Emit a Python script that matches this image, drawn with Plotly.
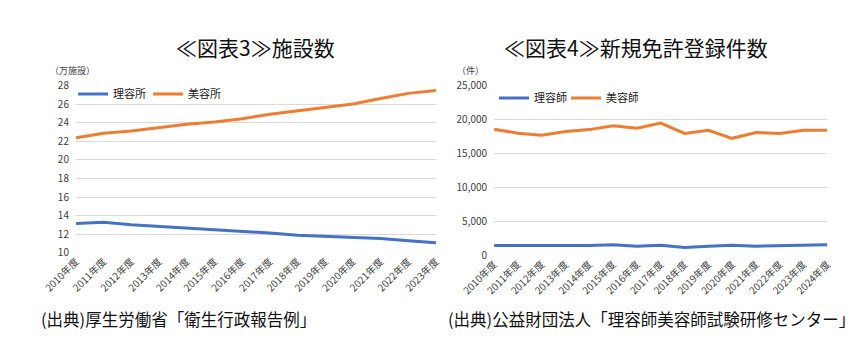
import plotly.graph_objects as go

W, H = 862, 345

# ---- data ----
years_left = [f"{y}年度" for y in range(2010, 2024)]
barber_shops = [13.17, 13.28, 13.03, 12.86, 12.69, 12.52, 12.28, 12.14, 11.9, 11.76, 11.62, 11.55, 11.31, 11.1]
beauty_salons = [22.37, 22.86, 23.1, 23.45, 23.84, 24.08, 24.43, 24.9, 25.24, 25.6, 26.0, 26.6, 27.15, 27.45]

years_right = [f"{y}年度" for y in range(2010, 2025)]
barber_licenses = [1500, 1500, 1500, 1500, 1500, 1630, 1400, 1540, 1215, 1400, 1540, 1400, 1500, 1500, 1600]
beauty_licenses = [18570, 18000, 17710, 18240, 18520, 19100, 18710, 19480, 17950, 18430, 17240, 18100, 17950, 18430, 18430]

left_ticks = [10, 12, 14, 16, 18, 20, 22, 24, 26, 28]
right_ticks = [0, 5000, 10000, 15000, 20000, 25000]

BLUE = "#4472C4"
ORANGE = "#ED7D31"
FONT = "Noto Sans CJK JP"
TICKC = "#404040"


def px(x):
    return x / W


def py(y):
    return (H - y) / H


fig = go.Figure()

fig.add_trace(go.Scatter(x=years_left, y=barber_shops, name="理容所", mode="lines",
                         line=dict(color=BLUE, width=3), xaxis="x", yaxis="y", legend="legend"))
fig.add_trace(go.Scatter(x=years_left, y=beauty_salons, name="美容所", mode="lines",
                         line=dict(color=ORANGE, width=3), xaxis="x", yaxis="y", legend="legend"))
fig.add_trace(go.Scatter(x=years_right, y=barber_licenses, name="理容師", mode="lines",
                         line=dict(color=BLUE, width=3), xaxis="x2", yaxis="y2", legend="legend2"))
fig.add_trace(go.Scatter(x=years_right, y=beauty_licenses, name="美容師", mode="lines",
                         line=dict(color=ORANGE, width=3), xaxis="x2", yaxis="y2", legend="legend2"))

axis_common = dict(showline=False, zeroline=False, ticks="", tickfont=dict(family=FONT, size=10, color=TICKC))

fig.update_layout(
    width=W, height=H,
    margin=dict(l=0, r=0, t=0, b=0),
    paper_bgcolor="white", plot_bgcolor="white",
    font=dict(family=FONT, color="#222"),
    xaxis=dict(domain=[px(43), px(421)], anchor="y", showgrid=False, tickangle=-45,
               **axis_common),
    yaxis=dict(domain=[py(256), py(81)], anchor="x", range=[10, 28], tickvals=left_ticks,
               showgrid=True, gridcolor="#d9d9d9", gridwidth=1, ticklabelstandoff=6, **axis_common),
    xaxis2=dict(domain=[px(482), px(832)], anchor="y2", showgrid=False, tickangle=-45,
                **axis_common),
    yaxis2=dict(domain=[py(259), py(81)], anchor="x2", range=[0, 25000], tickvals=right_ticks,
                tickformat=",", showgrid=True, gridcolor="#d9d9d9", gridwidth=1, ticklabelstandoff=6,
                **axis_common),
    legend=dict(orientation="h", x=px(40), y=py(90), xanchor="left", yanchor="middle",
                font=dict(family=FONT, size=11, color="#222"), bgcolor="rgba(0,0,0,0)",
                itemwidth=30, entrywidth=30, tracegroupgap=0),
    legend2=dict(orientation="h", x=px(482), y=py(94), xanchor="left", yanchor="middle",
                 font=dict(family=FONT, size=11, color="#222"), bgcolor="rgba(0,0,0,0)",
                 itemwidth=30, entrywidth=27, tracegroupgap=0),
    showlegend=True,
)

annos = [
    dict(text="≪図表3≫施設数", x=px(231), y=py(41), size=21),
    dict(text="≪図表4≫新規免許登録件数", x=px(631), y=py(41), size=21),
]
for a in annos:
    fig.add_annotation(text=a["text"], x=a["x"], y=a["y"], xref="paper", yref="paper",
                       xanchor="center", yanchor="middle", showarrow=False, align="center",
                       font=dict(family=FONT, size=a["size"], color="#111"))

fig.add_annotation(text="（万施設）", x=px(14), y=py(65), xref="paper", yref="paper",
                   xanchor="left", yanchor="middle", showarrow=False, align="left",
                   font=dict(family=FONT, size=9, color=TICKC))
fig.add_annotation(text="（件）", x=px(441), y=py(65), xref="paper", yref="paper",
                   xanchor="left", yanchor="middle", showarrow=False, align="left",
                   font=dict(family=FONT, size=9, color=TICKC))

fig.add_annotation(text="(出典)厚生労働省「衛生行政報告例」", x=px(4), y=py(325), xref="paper", yref="paper",
                   xanchor="left", yanchor="middle", showarrow=False, align="left",
                   font=dict(family=FONT, size=16.5, color="#111"))
fig.add_annotation(text="(出典)公益財団法人「理容師美容師試験研修センター」", x=px(432), y=py(325),
                   xref="paper", yref="paper", xanchor="left", yanchor="middle", showarrow=False,
                   align="left", font=dict(family=FONT, size=16.5, color="#111"))

fig.write_html("out.html")
